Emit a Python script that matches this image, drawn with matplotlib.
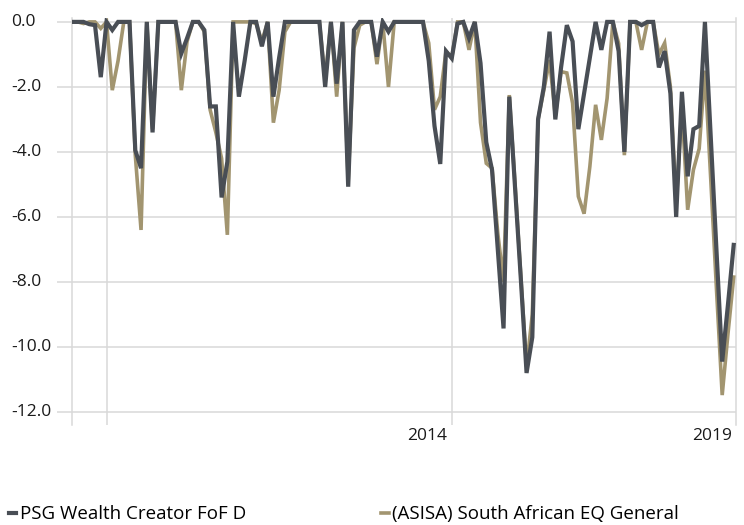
import matplotlib.pyplot as plt
from matplotlib.transforms import blended_transform_factory
import numpy as np

# monthly drawdown series (%)
psg = [0, 0, 0, -0.07, -0.1, -1.7, 0, -0.25, 0, 0,
       0, -3.95, -4.5, 0, -3.4, 0, 0, 0, 0, -0.97,
       -0.5, 0, 0, -0.25, -2.6, -2.6, -5.4, -4.3, 0, -2.3,
       -1.2, 0, 0, -0.75, 0, -2.3, -1.1, 0, 0, 0,
       0, 0, 0, 0, -2.0, 0, -1.9, 0, -5.07, -0.25,
       0, 0, 0, -1.07, 0, -0.3, 0, 0, 0, 0,
       0, 0, -1.2, -3.2, -4.37, -0.9, -1.12, -0.05, 0, -0.5,
       0, -1.27, -3.7, -4.55, -7.0, -9.43, -2.3, -5.1, -7.9, -10.8,
       -9.7, -3.0, -2.0, -0.3, -3.0, -1.4, -0.1, -0.6, -3.3, -2.2,
       -1.1, 0, -0.86, 0, 0, -0.9, -4.0, 0, 0, -0.1,
       0, 0, -1.4, -0.9, -2.2, -6.0, -2.15, -4.75, -3.3, -3.2,
       0, -3.5, -7.0, -10.45, -8.7, -6.86]
asisa = [0, 0, -0.05, 0, 0, -0.2, 0, -2.1, -1.2, 0,
         0, -4.1, -6.4, 0, -3.3, 0, 0, 0, 0, -2.1,
         -0.6, 0, 0, -0.3, -2.7, -3.4, -4.2, -6.55, 0, 0,
         0, 0, -0.05, -0.6, 0, -3.1, -2.1, -0.3, 0, 0,
         0, 0, 0, 0, -1.8, 0, -2.3, 0, -4.9, -0.8,
         -0.1, 0, 0, -1.3, 0, -2.0, 0, 0, 0, 0,
         0, 0, -0.65, -2.7, -2.3, -0.9, -1.1, 0, 0, -0.86,
         0, -3.1, -4.35, -4.5, -6.5, -8.0, -2.25, -5.0, -7.8, -10.6,
         -9.0, -3.0, -2.1, -1.17, -2.9, -1.53, -1.57, -2.5, -5.37, -5.9,
         -4.45, -2.55, -3.63, -2.35, 0, -0.66, -4.1, 0, 0, -0.86,
         0, 0, -1.0, -0.65, -2.0, -5.6, -2.6, -5.78, -4.55, -3.9,
         -1.5, -4.8, -8.2, -11.48, -9.6, -7.85]
series_names = ['PSG Wealth Creator FoF D', '(ASISA) South African EQ General']
yticks = [0, -2, -4, -6, -8, -10, -12]
year_labels = ['2014', '2019']

dark = '#494e55'
gold = '#a29570'
grid_c = '#d9d9d9'
txt_c = '#1a1a1a'

plt.rcParams['font.family'] = ['Open Sans', 'DejaVu Sans']

x = np.arange(len(psg))

fig = plt.figure(figsize=(7.44, 5.25), dpi=100)
ax = fig.add_axes([72 / 744, 1 - 425 / 525, 664 / 744, 407 / 525])

ax.plot(x, asisa, color=gold, lw=2.6, solid_joinstyle='miter', label=series_names[1], zorder=3)
ax.plot(x, psg, color=dark, lw=3.0, solid_joinstyle='miter', label=series_names[0], zorder=4)

ax.set_xlim(0, 115.4)
ax.set_ylim(-12.4, 0.12)

ax.set_yticks(yticks)
ax.set_yticklabels([])
ax.tick_params(axis='y', length=11, width=1.1, color=grid_c)
# y labels are left-aligned near the figure edge
tr = blended_transform_factory(fig.transFigure, ax.transData)
for v in yticks:
    ax.text(11 / 744, v, f'{v:.1f}', transform=tr, ha='left', va='center',
            fontsize=12.5, color=txt_c)

ax.set_xticks([6, 66])
ax.set_xticklabels([])
ax.tick_params(axis='x', length=0)
ax.grid(True, color=grid_c, lw=1.1, zorder=0)

for s in ['top', 'bottom']:
    ax.spines[s].set_visible(False)
for s in ['left', 'right']:
    ax.spines[s].set_color(grid_c)
    ax.spines[s].set_linewidth(1.1)

# year labels sit just left of their lines
for xv, lab in zip([66, 115.4], year_labels):
    ax.annotate(lab, xy=(xv, -12.4), xytext=(-3, -2), textcoords='offset points',
                ha='right', va='top', fontsize=12.5, color=txt_c)

h, l = ax.get_legend_handles_labels()
fig.legend(h[::-1], l[::-1], loc='lower left', bbox_to_anchor=(-0.006, -0.022), ncol=2,
           frameon=False, fontsize=13.5, handlelength=0.4, handletextpad=0.2,
           columnspacing=7.2, borderaxespad=0.3)

fig.savefig('out.png', dpi=100)
